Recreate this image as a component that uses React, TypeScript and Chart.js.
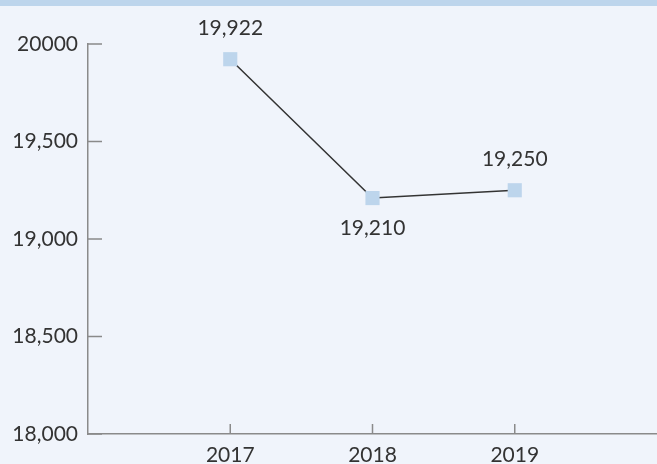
import React, { useEffect, useRef } from "react";
import { Chart, registerables } from "chart.js";

Chart.register(...registerables);

const years = [2017, 2018, 2019];
const values = [19922, 19210, 19250];
const yTicks = [18000, 18500, 19000, 19500, 20000];

const FONT = "Lato, 'Open Sans', sans-serif";
const FSIZE = 21;
const TEXT = "#333333";
const AXIS = "#8a8a8a";
const BG = "#f0f4fb";
const BAND = "#bdd5ec";

const fmtY = (v: number) => (v === 20000 ? "20000" : v.toLocaleString("en-US"));

export default function App() {
  const ref = useRef<HTMLCanvasElement>(null);
  useEffect(() => {
    if (!ref.current) return;
    const bgPlugin = {
      id: "bg",
      beforeDraw(chart: any) {
        const { ctx, width, height } = chart;
        ctx.save();
        ctx.fillStyle = BG;
        ctx.fillRect(0, 0, width, height);
        ctx.fillStyle = BAND;
        ctx.fillRect(0, 0, width, 6);
        ctx.restore();
      },
    };
    const tickPlugin = {
      id: "innerTicks",
      afterDraw(chart: any) {
        const { ctx, chartArea, scales } = chart;
        ctx.save();
        ctx.strokeStyle = AXIS;
        ctx.lineWidth = 1.5;
        scales.y.ticks.forEach((t: any) => {
          const y = scales.y.getPixelForValue(t.value);
          ctx.beginPath();
          ctx.moveTo(chartArea.left, y);
          ctx.lineTo(chartArea.left + 14, y);
          ctx.stroke();
        });
        scales.x.ticks.forEach((t: any) => {
          const x = scales.x.getPixelForValue(t.value);
          ctx.beginPath();
          ctx.moveTo(x, chartArea.bottom);
          ctx.lineTo(x, chartArea.bottom - 10);
          ctx.stroke();
        });
        ctx.restore();
      },
    };
    const labelPlugin = {
      id: "valueLabels",
      afterDatasetsDraw(chart: any) {
        const { ctx } = chart;
        const meta = chart.getDatasetMeta(0);
        ctx.save();
        ctx.font = `${FSIZE}px ${FONT}`;
        ctx.fillStyle = TEXT;
        ctx.textAlign = "center";
        ctx.textBaseline = "middle";
        meta.data.forEach((pt: any, i: number) => {
          const prev = i > 0 ? values[i - 1] : Infinity;
          const next = i < values.length - 1 ? values[i + 1] : Infinity;
          const below = values[i] < prev && values[i] < next;
          const y = below ? pt.y + 30 : pt.y - 31;
          ctx.fillText(values[i].toLocaleString("en-US"), pt.x, y);
        });
        ctx.restore();
      },
    };
    const chart = new Chart(ref.current, {
      type: "line",
      data: {
        datasets: [
          {
            data: years.map((yr, i) => ({ x: yr, y: values[i] })),
            borderColor: "#333333",
            borderWidth: 1.5,
            pointStyle: "rect",
            pointRadius: 10,
            pointBackgroundColor: BAND,
            pointBorderWidth: 0,
            tension: 0,
          },
        ],
      },
      options: {
        animation: false,
        responsive: false,
        layout: { autoPadding: false, padding: { top: 44, left: 0, right: 0, bottom: 0 } },
        plugins: { legend: { display: false }, tooltip: { enabled: false } },
        scales: {
          x: {
            type: "linear",
            min: years[0] - 1,
            max: years[years.length - 1] + 1,
            afterBuildTicks: (s: any) => {
              s.ticks = years.map((v) => ({ value: v }));
            },
            afterFit: (s: any) => {
              s.height = 30;
              s.paddingLeft = 0;
              s.paddingRight = 0;
            },
            ticks: {
              callback: (v: any) => String(v),
              font: { family: FONT, size: FSIZE },
              color: TEXT,
              padding: 9,
              maxRotation: 0,
              autoSkip: false,
            },
            grid: { display: false, drawTicks: false },
            border: { color: AXIS, width: 1.5 },
          },
          y: {
            min: 18000,
            max: 20000,
            afterBuildTicks: (s: any) => {
              s.ticks = yTicks.map((v) => ({ value: v }));
            },
            afterFit: (s: any) => {
              s.width = 88;
            },
            ticks: {
              callback: (v: any) => fmtY(Number(v)),
              font: { family: FONT, size: FSIZE },
              color: TEXT,
              padding: 10,
              autoSkip: false,
            },
            grid: { display: false, drawTicks: false },
            border: { color: AXIS, width: 1.5 },
          },
        },
      },
      plugins: [bgPlugin, tickPlugin, labelPlugin],
    } as any);
    return () => chart.destroy();
  }, []);
  return (
    <div style={{ position: "absolute", left: 0, top: 0, width: 657, height: 464, overflow: "hidden", background: BG }}>
      <canvas ref={ref} width={657} height={464} style={{ display: "block", width: 657, height: 464 }} />
    </div>
  );
}
